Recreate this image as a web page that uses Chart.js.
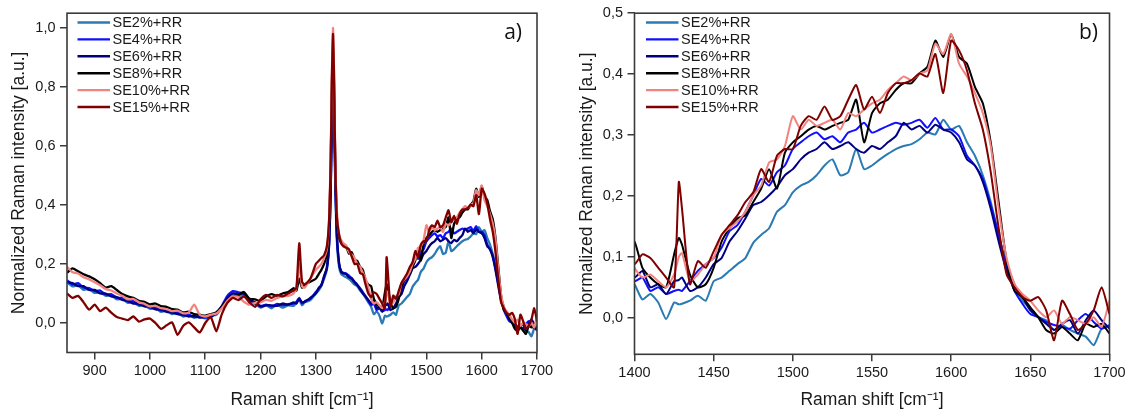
<!DOCTYPE html>
<html>
<head>
<meta charset="utf-8">
<title>Raman spectra SE+RR</title>
<script src="https://cdn.jsdelivr.net/npm/chart.js@4.4.1/dist/chart.umd.min.js"></script>
<style>
  html, body { margin: 0; padding: 0; background: #fff; }
  #wrap { position: relative; width: 1137px; height: 417px; }
  #chartA { position: absolute; left: 0; top: 0; }
  #chartB { position: absolute; left: 560px; top: 0; }
</style>
</head>
<body>
<div id="wrap">
  <canvas id="chartA" width="560" height="417"></canvas>
  <canvas id="chartB" width="577" height="417"></canvas>
</div>
<script>
// Raman shift grid [cm-1], shared by every spectrum
const shift = [
  850,860,870,880,890,900,910,920,930,940,950,960,970,980,990,1000,1010,1020,1030,1040,1050,1060,1070,1080,1090,1100,1110,1120,1130,1140,1150,1160,1170,1180,1190,1200,1210,1220,1230,1240,1250,1260,
  1265,1270,1275,1280,1290,1300,1305,1310,1315,1320,1324,1327,1329,1331,1333,1335,1338,1342,1346,
  1350,1355,1360,1365,1370,1375,1380,1385,1390,1395,1400,1405,1410,1415,1420,1425,
  1428,1430,1435,1440,1445,1450,1455,1460,1465,1470,1475,1480,1485,1490,1495,1500,1505,1510,1515,1520,1525,1530,1535,1540,1545,1550,1555,1560,
  1565,1570,1575,1580,1585,1590,1595,1600,1605,1610,1615,1620,1625,1630,1635,1640,1645,1650,1655,1660,1665,1670,1675,1680,1685,1690,1695,1700
];

// normalized intensities
const se2 = [
  .138,.124,.128,.112,.115,.102,.104,.092,.094,.08,.082,.068,.07,.058,.06,.048,.05,.038,.041,.03,.033,.022,.026,.018,.022,.016,.025,.028,.052,.082,.1,.092,.094,.072,.064,.052,.06,.05,.062,.052,.06,.058,
  .07,.078,.06,.07,.078,.1,.11,.125,.15,.18,.26,.45,.68,.86,.72,.48,.28,.19,.165,
  .16,.155,.15,.14,.13,.125,.11,.1,.085,.07,.055,.03,.039,.025,-.002,.025,
  .022,.023,.028,.036,.028,.06,.066,.077,.088,.098,.123,.136,.147,.174,.185,.206,.217,.223,.234,.25,.26,.234,.239,.277,.244,.25,.26,.269,
  .277,.282,.285,.293,.304,.301,.325,.309,.315,.288,.266,.234,.19,.136,.088,.055,.028,.015,.001,-.004,-.02,-.012,-.02,-.026,-.031,-.045,-.018,-.012
];
const se4 = [
  .145,.13,.135,.12,.118,.108,.11,.096,.098,.085,.086,.072,.074,.062,.063,.052,.054,.042,.045,.034,.036,.026,.028,.02,.023,.018,.026,.032,.058,.092,.108,.104,.1,.08,.068,.058,.062,.056,.065,.06,.064,.066,
  .072,.085,.066,.074,.082,.105,.115,.13,.155,.19,.27,.47,.7,.89,.74,.5,.3,.2,.175,
  .17,.168,.16,.152,.14,.13,.118,.105,.09,.075,.06,.066,.044,.05,.039,.044,
  .046,.044,.06,.077,.088,.098,.115,.142,.152,.174,.201,.228,.217,.239,.25,.277,.288,.298,.304,.293,.298,.288,.304,.309,.32,.304,.309,.315,
  .32,.317,.32,.325,.312,.328,.309,.309,.298,.266,.25,.228,.185,.136,.082,.044,.023,.006,.001,-.007,-.012,-.015,-.018,-.004,.006,-.007,-.018,-.012
];
const se6 = [
  .14,.135,.125,.125,.112,.112,.1,.1,.09,.088,.078,.076,.066,.066,.056,.056,.046,.046,.038,.036,.03,.028,.022,.024,.018,.022,.02,.035,.055,.085,.1,.098,.1,.078,.07,.056,.06,.06,.058,.066,.062,.07,
  .066,.082,.07,.072,.085,.1,.118,.128,.16,.185,.27,.46,.7,.9,.75,.52,.3,.205,.172,
  .168,.165,.155,.15,.138,.128,.115,.1,.09,.078,.066,.077,.05,.055,.039,.06,
  .062,.066,.044,.05,.066,.088,.098,.125,.142,.163,.185,.19,.201,.215,.234,.244,.26,.271,.277,.288,.277,.282,.288,.277,.271,.282,.277,.288,
  .298,.32,.309,.315,.304,.317,.309,.304,.288,.26,.25,.223,.179,.125,.077,.05,.034,.012,.001,-.01,-.02,-.01,-.004,-.026,-.004,.012,-.004,-.018
];
const se8 = [
  .17,.185,.175,.165,.158,.148,.135,.12,.125,.112,.098,.09,.085,.075,.072,.063,.066,.057,.055,.047,.045,.036,.038,.03,.028,.025,.03,.036,.055,.078,.09,.095,.105,.082,.08,.075,.09,.098,.092,.1,.105,.118,
  .11,.15,.12,.13,.14,.15,.165,.18,.2,.235,.33,.55,.8,.95,.8,.56,.36,.29,.27,
  .265,.26,.235,.24,.215,.21,.19,.18,.145,.13,.125,.082,.066,.055,.05,.104,
  .131,.12,.071,.05,.055,.082,.125,.147,.163,.168,.19,.212,.244,.212,.271,.288,.298,.309,.315,.309,.315,.32,.325,.358,.288,.336,.352,.358,
  .374,.385,.385,.401,.412,.455,.428,.465,.428,.417,.379,.352,.288,.19,.093,.044,.034,.017,.001,-.02,-.026,-.015,-.026,-.037,-.01,-.015,-.01,-.026
];
const se10 = [
  .19,.172,.168,.155,.148,.138,.128,.115,.11,.1,.092,.08,.082,.07,.065,.056,.058,.05,.047,.04,.042,.033,.035,.062,.028,.022,.028,.032,.05,.075,.09,.088,.072,.062,.068,.07,.078,.075,.085,.09,.092,.1,
  .12,.2,.125,.12,.15,.18,.19,.2,.22,.25,.35,.58,.84,1.0,.85,.58,.38,.3,.28,
  .27,.262,.24,.232,.22,.2,.19,.17,.15,.12,.082,.066,.071,.06,.05,.071,
  .1,.106,.06,.071,.088,.098,.136,.147,.158,.174,.201,.217,.255,.26,.282,.331,.309,.325,.315,.32,.325,.309,.336,.331,.342,.352,.358,.374,
  .385,.396,.39,.401,.406,.45,.433,.466,.417,.396,.369,.336,.282,.179,.098,.055,.039,.028,.012,.001,.012,-.01,.001,-.004,-.01,.001,-.015,.028
];
const se15 = [
  .1,.085,.092,.07,.045,.062,.04,.052,.035,.02,.015,.01,.022,.005,.012,.015,0,-.02,-.008,.002,-.04,-.01,.002,-.015,-.032,0,.02,-.028,.03,.068,.085,.078,.09,.07,.055,.08,.095,.085,.095,.09,.1,.11,
  .12,.27,.14,.13,.15,.2,.21,.22,.23,.26,.35,.56,.82,.98,.83,.56,.36,.3,.27,
  .26,.255,.25,.225,.2,.2,.17,.165,.13,.1,.088,.104,.098,.082,.066,.05,
  .223,.179,.055,.093,.082,.109,.136,.152,.168,.19,.206,.244,.223,.266,.277,.277,.315,.331,.325,.347,.325,.331,.358,.382,.342,.363,.336,.369,
  .385,.385,.39,.401,.396,.433,.369,.455,.439,.406,.352,.309,.239,.147,.071,.05,.034,.028,.034,.012,-.037,.028,.006,-.02,-.01,.012,.05,.006
];

const seriesNames = ["SE2%+RR", "SE4%+RR", "SE6%+RR", "SE8%+RR", "SE10%+RR", "SE15%+RR"];
const seriesColors = ["#2a7bb3", "#1010ff", "#000080", "#000000", "#f2837f", "#800000"];
const allSeries = [se2, se4, se6, se8, se10, se15];

// tick labels
const xTicksA = [900, 1000, 1100, 1200, 1300, 1400, 1500, 1600, 1700];
const yTicksA = [0, 0.2, 0.4, 0.6, 0.8, 1.0];
const xTicksB = [1400, 1450, 1500, 1550, 1600, 1650, 1700];
const yTicksB = [0, 0.1, 0.2, 0.3, 0.4, 0.5];

// sanity check so a typo in the arrays shows up as an error
allSeries.forEach((s, i) => {
  if (s.length !== shift.length) throw new Error(seriesNames[i] + " has " + s.length + " values, expected " + shift.length);
});

Chart.defaults.font.family = '"Liberation Sans", Arial, sans-serif';
Chart.defaults.color = "#1a1a1a";

const axisColor = "#3a3a3a";

// frame around the plot, panel letter and the legend inside the plot
const panelPlugin = {
  id: "panel",
  afterDraw(chart, args, opts) {
    const { ctx, chartArea: a } = chart;
    ctx.save();
    ctx.strokeStyle = axisColor;
    ctx.lineWidth = 1.6;
    ctx.strokeRect(a.left, a.top, a.right - a.left, a.bottom - a.top);

    ctx.fillStyle = "#111";
    ctx.font = '21px "Open Sans", sans-serif';
    ctx.textAlign = "right";
    ctx.textBaseline = "middle";
    ctx.fillText(opts.letter, a.right - opts.letterInset, 33);

    ctx.font = '14.5px "Liberation Sans", Arial, sans-serif';
    ctx.textAlign = "left";
    seriesNames.forEach((name, i) => {
      const y = 22.5 + i * 16.9;
      ctx.strokeStyle = seriesColors[i];
      ctx.lineWidth = 2.4;
      ctx.beginPath();
      ctx.moveTo(a.left + opts.legendX, y);
      ctx.lineTo(a.left + opts.legendX + 32.5, y);
      ctx.stroke();
      ctx.fillStyle = "#1a1a1a";
      ctx.fillText(name, a.left + opts.legendX + 35, y + 0.5);
    });
    ctx.restore();
  },
};

function buildDatasets(width) {
  return allSeries.map((s, i) => ({
    label: seriesNames[i],
    data: shift.map((x, j) => ({ x: x, y: s[j] })),
    borderColor: seriesColors[i],
    borderWidth: width,
    pointRadius: 0,
    tension: 0.2,
    order: allSeries.length - 1 - i, // SE15 on top
  }));
}

function makeChart(canvasId, cfg) {
  const ctx = document.getElementById(canvasId).getContext("2d");
  return new Chart(ctx, {
    type: "line",
    data: { datasets: buildDatasets(cfg.lineWidth) },
    plugins: [panelPlugin],
    options: {
      responsive: false,
      animation: false,
      layout: { padding: { left: 0, right: cfg.padRight, top: cfg.padTop, bottom: 0 } },
      plugins: {
        legend: { display: false },
        tooltip: { enabled: false },
        panel: { letter: cfg.letter, letterInset: cfg.letterInset, legendX: cfg.legendX },
      },
      scales: {
        x: {
          type: "linear",
          min: cfg.xMin,
          max: cfg.xMax,
          afterBuildTicks: (scale) => { scale.ticks = cfg.xTicks.map((v) => ({ value: v })); },
          afterFit: (scale) => { scale.height = cfg.xAxisHeight; },
          ticks: {
            autoSkip: false,
            maxRotation: 0,
            padding: 2.5,
            font: { size: 14.5 },
            callback: (v) => String(v),
          },
          grid: { drawOnChartArea: false, tickLength: 7, color: axisColor, lineWidth: 1.5 },
          border: { display: false },
          title: {
            display: true,
            text: "Raman shift [cm⁻¹]",
            font: { size: 17.5 },
            padding: { top: 0, bottom: 6.5 },
          },
        },
        y: {
          min: cfg.yMin,
          max: cfg.yMax,
          afterBuildTicks: (scale) => { scale.ticks = cfg.yTicks.map((v) => ({ value: v })); },
          afterFit: (scale) => { scale.width = cfg.yAxisWidth; },
          ticks: {
            padding: 4.5,
            font: { size: 14.5 },
            callback: (v) => v.toFixed(1).replace(".", ","),
          },
          grid: { drawOnChartArea: false, tickLength: 7, color: axisColor, lineWidth: 1.5 },
          border: { display: false },
          title: {
            display: true,
            text: "Normalized Raman intensity [a.u.]",
            font: { size: 17.5 },
            padding: { top: cfg.yTitlePad, bottom: 0 },
          },
        },
      },
    },
  });
}

// a) full spectrum
makeChart("chartA", {
  xMin: 850, xMax: 1700, yMin: -0.1, yMax: 1.05,
  xTicks: xTicksA, yTicks: yTicksA,
  yAxisWidth: 67, xAxisHeight: 64.5, padRight: 23, padTop: 8,
  yTitlePad: 8.5, letter: "a)", letterInset: 15, legendX: 10.5, lineWidth: 2.3,
});

// b) zoom on the 1400-1700 region
makeChart("chartB", {
  xMin: 1400, xMax: 1700, yMin: -0.06, yMax: 0.5,
  xTicks: xTicksB, yTicks: yTicksB,
  yAxisWidth: 74.5, xAxisHeight: 62.7, padRight: 27.5, padTop: 7.3,
  yTitlePad: 16.8, letter: "b)", letterInset: 11.5, legendX: 11.5, lineWidth: 2,
});
</script>
</body>
</html>
